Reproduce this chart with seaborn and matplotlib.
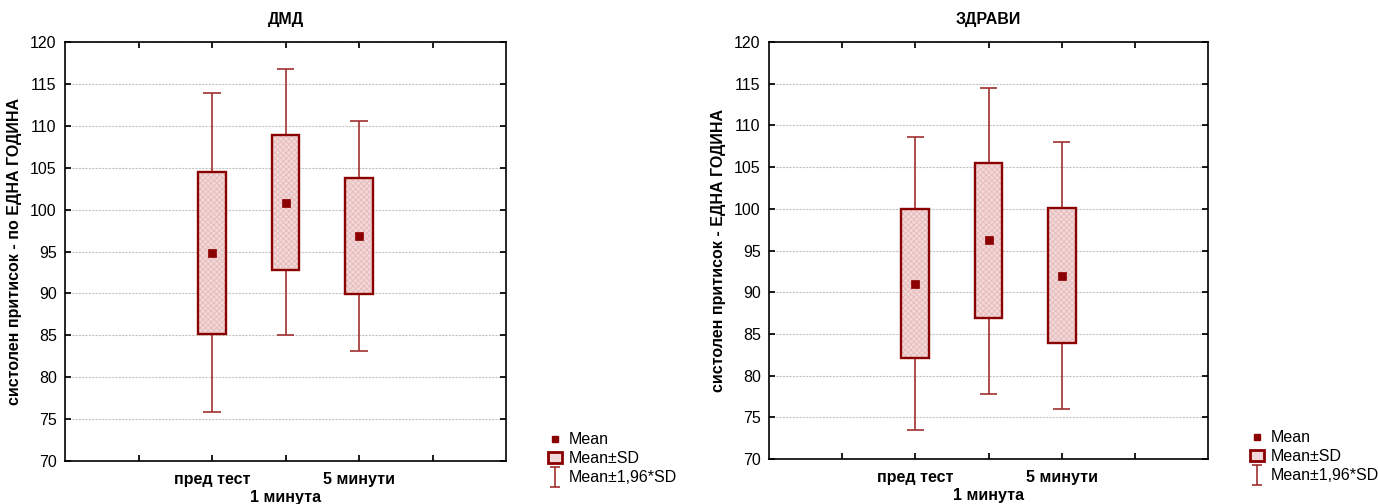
import numpy as np
import pandas as pd
import seaborn as sns
import matplotlib
matplotlib.use("Agg")
import matplotlib.pyplot as plt
from matplotlib.lines import Line2D
from matplotlib.patches import Patch
from matplotlib.path import Path

# ---- data ----
categories = ["пред тест", "1 минута", "5 минути"]
tick_labels = ["пред тест", "\n1 минута", "5 минути"]

dmd_mean = [94.8, 100.8, 96.8]
dmd_sd_low = [85.2, 92.8, 89.9]
dmd_sd_high = [104.5, 108.9, 103.8]
dmd_ci_low = [75.9, 85.0, 83.1]
dmd_ci_high = [113.9, 116.8, 110.6]

zd_mean = [91.0, 96.2, 92.0]
zd_sd_low = [82.1, 86.9, 83.9]
zd_sd_high = [100.0, 105.5, 100.1]
zd_ci_low = [73.5, 77.8, 76.0]
zd_ci_high = [108.6, 114.5, 108.0]

titles = ["ДМД", "ЗДРАВИ"]
ylabels = ["систолен притисок - по ЕДНА ГОДИНА", "систолен притисок - ЕДНА ГОДИНА"]
legend_labels = ["Mean", "Mean±SD", "Mean±1,96*SD"]

sns.set_theme(style="white")
plt.rcParams["font.family"] = ["Liberation Sans", "DejaVu Sans"]
plt.rcParams["text.color"] = "black"
plt.rcParams["axes.labelcolor"] = "black"
plt.rcParams["xtick.color"] = "black"
plt.rcParams["ytick.color"] = "black"
plt.rcParams["hatch.linewidth"] = 0.6

DARK = "#8b0000"
WHISK = "#a03030"
FILL = "#f2d8d8"

fig = plt.figure(figsize=(13.78, 5.04), dpi=100)
ax1 = fig.add_axes([65 / 1378, 43 / 504, 441 / 1378, 419 / 504])
ax2 = fig.add_axes([769 / 1378, 45 / 504, 439 / 1378, 417 / 504])

datasets = [
    (dmd_mean, dmd_sd_low, dmd_sd_high, dmd_ci_low, dmd_ci_high),
    (zd_mean, zd_sd_low, zd_sd_high, zd_ci_low, zd_ci_high),
]

FS = 11.5
x = np.array([2, 3, 4])
for ax, (m, sl, sh, cl, ch), title, ylab in zip([ax1, ax2], datasets, titles, ylabels):
    sl = np.array(sl); sh = np.array(sh); cl = np.array(cl); ch = np.array(ch)
    ax.set_ylim(70, 120)
    ax.set_xlim(0, 6)
    ax.yaxis.grid(True, color="#c4c4c4", linestyle=(0, (2, 1)), linewidth=0.8)
    ax.set_axisbelow(True)
    # whiskers (upper and lower)
    ax.vlines(x, sh, ch, color=WHISK, linewidth=1.2, zorder=2)
    ax.vlines(x, cl, sl, color=WHISK, linewidth=1.2, zorder=2)
    ax.hlines(ch, x - 0.12, x + 0.12, color=WHISK, linewidth=1.2, zorder=2)
    ax.hlines(cl, x - 0.12, x + 0.12, color=WHISK, linewidth=1.2, zorder=2)
    # SD boxes
    ax.bar(x, sh - sl, bottom=sl, width=0.38, color=FILL, edgecolor="#e6baba",
           hatch="xxxxxx", linewidth=0, zorder=3)
    ax.bar(x, sh - sl, bottom=sl, width=0.38, color="none", edgecolor=DARK,
           linewidth=1.7, zorder=3)
    df = pd.DataFrame({"x": x, "mean": m})
    sns.scatterplot(data=df, x="x", y="mean", ax=ax, marker="s", s=40,
                    color=DARK, edgecolor=DARK, zorder=4, legend=False)
    ax.set_xticks([1, 2, 3, 4, 5])
    ax.set_xticklabels(["", tick_labels[0], tick_labels[1], tick_labels[2], ""],
                       fontweight="bold", fontsize=FS)
    ax.set_yticks(np.arange(70, 121, 5))
    ax.tick_params(axis="y", labelsize=FS, direction="in", length=4, left=True, right=True, pad=6)
    ax.tick_params(axis="x", direction="in", length=4, bottom=True, top=True, pad=8)
    ax.set_xlabel("")
    ax.set_ylabel(ylab, fontweight="bold", fontsize=FS, labelpad=6)
    ax.set_title(title, fontweight="bold", fontsize=FS, pad=13)
    for s in ax.spines.values():
        s.set_color("black")
        s.set_linewidth(1.2)

    # legend
    ipath = Path([(-0.5, -1), (0.5, -1), (0, -1), (0, 1), (-0.5, 1), (0.5, 1)],
                 [Path.MOVETO, Path.LINETO, Path.MOVETO, Path.LINETO, Path.MOVETO, Path.LINETO])
    handles = [
        Line2D([], [], marker="s", linestyle="none", color=DARK, markersize=5),
        Patch(facecolor=FILL, edgecolor=DARK, linewidth=2.0),
        Line2D([], [], marker=ipath, linestyle="none", markeredgecolor=WHISK,
               markerfacecolor="none", markersize=14, markeredgewidth=1.2),
    ]
    ax.legend(handles, legend_labels, loc="lower left", bbox_to_anchor=(1.07, -0.085),
              frameon=False, fontsize=FS, handlelength=0.9, handletextpad=0.4,
              labelspacing=0.25, borderpad=0.2)

fig.savefig("out.png", dpi=100)
